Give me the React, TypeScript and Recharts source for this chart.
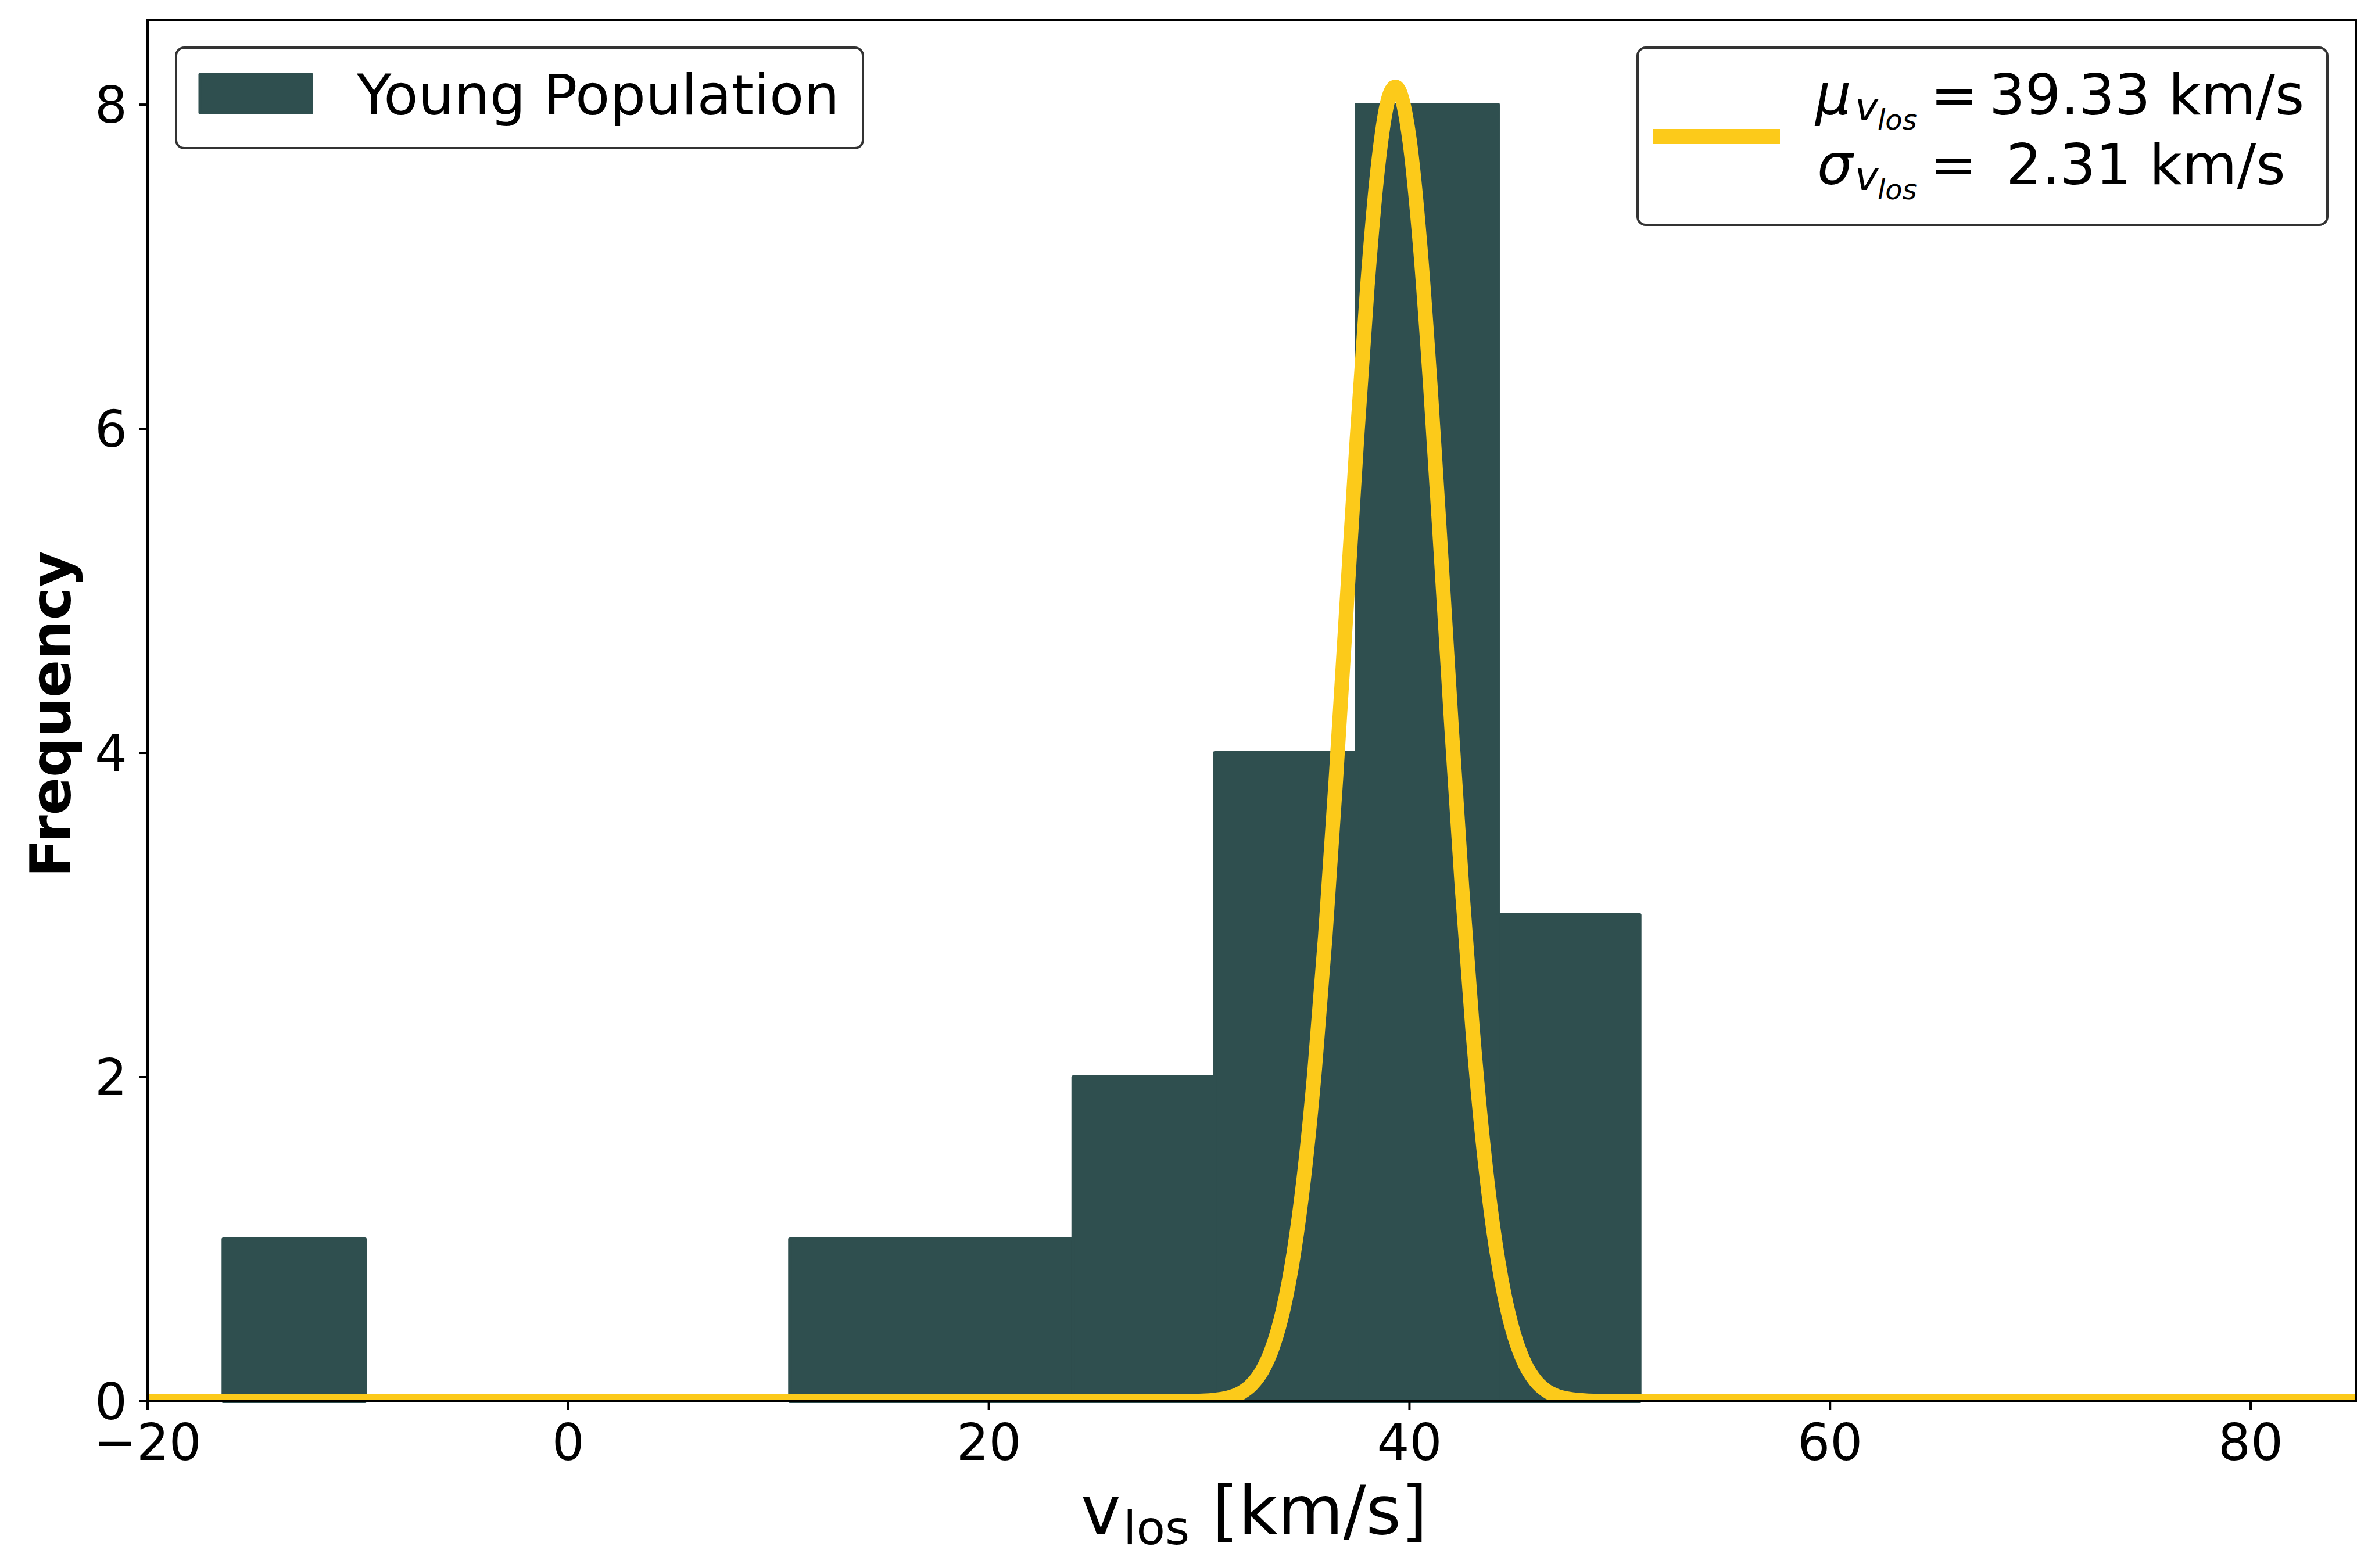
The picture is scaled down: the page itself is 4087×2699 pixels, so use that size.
import { ComposedChart, Line, ReferenceArea, XAxis, YAxis } from 'recharts';

// histogram of line-of-sight velocities (young population)
const binEdges = [-16.4, -9.665, -2.93, 3.805, 10.54, 17.275, 24.01, 30.745, 37.48, 44.215, 50.95];
const binCounts = [1, 0, 0, 0, 1, 1, 2, 4, 8, 3];

// gaussian fit curve
const fitX = [
  -20, 30, 31, 31.5, 32, 32.5, 33, 33.5, 34, 34.5, 35, 35.5, 36, 36.5, 37, 37.5, 38, 38.5, 39,
  39.33, 39.5, 40, 40.5, 41, 41.5, 42, 42.5, 43, 43.5, 44, 44.5, 45, 45.5, 46, 46.5, 47, 47.5, 48, 49, 85,
];
const fitY = [
  0, 0.002, 0.012, 0.026, 0.053, 0.103, 0.19, 0.336, 0.567, 0.913, 1.401, 2.053, 2.873, 3.833, 4.883,
  5.933, 6.879, 7.613, 8.038, 8.11, 8.09, 7.785, 7.142, 6.252, 5.224, 4.163, 3.167, 2.299, 1.592, 1.052,
  0.664, 0.399, 0.229, 0.126, 0.066, 0.033, 0.016, 0.007, 0.001, 0,
];

const xTicks = [-20, 0, 20, 40, 60, 80];
const yTicks = [0, 2, 4, 6, 8];

const W = 4087;
const H = 2699;
const BAR = '#2F4F4F';
const GOLD = '#FCCA1A';
const FONT = 'DejaVu Sans';

const fitData = fitX.map((x, i) => ({ x, y: fitY[i] }));
const bins = binCounts
  .map((count, i) => ({ x1: binEdges[i], x2: binEdges[i + 1], count }))
  .filter((b) => b.count > 0);

const fmtTick = (v: number) => (v < 0 ? `\u2212${Math.abs(v)}` : `${v}`);

function Overlay() {
  return (
    <svg
      width={W}
      height={H}
      style={{ position: 'absolute', left: 0, top: 0, pointerEvents: 'none' }}
      fontFamily={FONT}
    >
      {/* axis labels */}
      <text x={121} y={1229} transform="rotate(-90 121 1229)" textAnchor="middle" fontSize={96} fontWeight="bold">
        Frequency
      </text>
      <text x={1860} y={2640} fontSize={116}>v</text>
      <text x={1933} y={2658} fontSize={81}>los</text>
      <text x={2086} y={2640} fontSize={116}>[km/s]</text>

      {/* legend: histogram */}
      <rect x={303} y={82} width={1182} height={173} rx={14} fill="#fff" stroke="#333" strokeWidth={4} />
      <rect x={344} y={128} width={192} height={66} fill={BAR} stroke={BAR} strokeWidth={5} strokeLinejoin="round" />
      <text x={614} y={197} fontSize={97}>Young Population</text>

      {/* legend: fit */}
      <rect x={2818} y={82} width={1187} height={305} rx={14} fill="#fff" stroke="#333" strokeWidth={4} />
      <line x1={2844} y1={235} x2={3063} y2={235} stroke={GOLD} strokeWidth={26} />
      <text x={3124} y={197} fontSize={97} fontStyle="italic">μ</text>
      <text x={3192} y={207} fontSize={68} fontStyle="italic">v</text>
      <text x={3231} y={223} fontSize={48} fontStyle="italic">los</text>
      <text x={3322} y={197} fontSize={97}>=</text>
      <text x={3423} y={197} fontSize={97}>39.33 km/s</text>

      <text x={3127} y={317} fontSize={97} fontStyle="italic">σ</text>
      <text x={3192} y={327} fontSize={68} fontStyle="italic">v</text>
      <text x={3231} y={343} fontSize={48} fontStyle="italic">los</text>
      <text x={3321} y={317} fontSize={97}>=</text>
      <text x={3452} y={317} fontSize={97}>2.31 km/s</text>
    </svg>
  );
}

export default function App() {
  return (
    <div style={{ position: 'absolute', left: 0, top: 0, width: W, height: H, background: '#fff' }}>
      <ComposedChart
        width={W}
        height={H}
        data={fitData}
        margin={{ top: 35, right: 33, left: 0, bottom: 0 }}
      >
        <XAxis
          type="number"
          dataKey="x"
          domain={[-20, 85]}
          ticks={xTicks}
          tickFormatter={fmtTick}
          allowDataOverflow
          height={287}
          axisLine={false}
          tickSize={15}
          tickMargin={24}
          tickLine={{ stroke: '#000', strokeWidth: 4 }}
          tick={{ fontSize: 88, fill: '#000', fontFamily: FONT }}
        />
        <YAxis
          type="number"
          domain={[0, 8.52]}
          ticks={yTicks}
          allowDataOverflow
          width={254}
          axisLine={false}
          tickSize={15}
          tickMargin={20}
          tickLine={{ stroke: '#000', strokeWidth: 4 }}
          tick={{ fontSize: 88, fill: '#000', fontFamily: FONT }}
        />
        {bins.map((b) => (
          <ReferenceArea
            key={b.x1}
            x1={b.x1}
            x2={b.x2}
            y1={0}
            y2={b.count}
            ifOverflow="visible"
            fill={BAR}
            fillOpacity={1}
            stroke={BAR}
            strokeWidth={6}
            strokeLinejoin="round"
            zIndex={100}
          />
        ))}
        <Line
          type="monotone"
          dataKey="y"
          stroke={GOLD}
          strokeWidth={25}
          dot={false}
          activeDot={false}
          isAnimationActive={false}
          zIndex={400}
        />
        <ReferenceArea
          x1={-20}
          x2={85}
          y1={0}
          y2={8.52}
          ifOverflow="visible"
          fill="none"
          stroke="#000"
          strokeWidth={4}
          zIndex={600}
        />
      </ComposedChart>
      <Overlay />
    </div>
  );
}
